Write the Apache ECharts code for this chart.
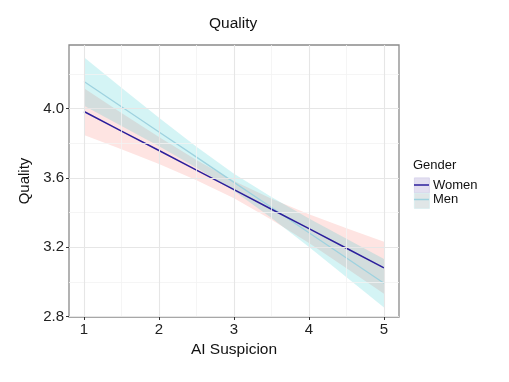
<!DOCTYPE html>
<html><head><meta charset="utf-8">
<script src="https://cdn.jsdelivr.net/npm/echarts@6/dist/echarts.min.js"></script>
<style>html,body{margin:0;padding:0;background:#fff}#c{width:509px;height:382px}</style>
</head><body><div id="c"></div>
<script>
const xTicks = [1, 2, 3, 4, 5];
const xMinor = [1.5, 2.5, 3.5, 4.5];
const yTicks = [2.8, 3.2, 3.6, 4.0];
const yMinor = [3.0, 3.4, 3.8, 4.2];
const xs = [1, 1.5, 2, 2.5, 3, 3.5, 4, 4.5, 5];
const womenFit   = [3.983, 3.870, 3.758, 3.645, 3.532, 3.419, 3.307, 3.194, 3.081];
const womenLower = [3.848, 3.765, 3.680, 3.587, 3.482, 3.359, 3.224, 3.079, 2.931];
const womenUpper = [4.118, 3.975, 3.836, 3.703, 3.582, 3.479, 3.390, 3.309, 3.231];
const menFit     = [4.156, 4.011, 3.865, 3.720, 3.574, 3.429, 3.283, 3.138, 2.992];
const menLower   = [4.016, 3.900, 3.783, 3.659, 3.524, 3.368, 3.201, 3.027, 2.852];
const menUpper   = [4.296, 4.120, 3.947, 3.780, 3.624, 3.489, 3.365, 3.248, 3.132];

const FONT = 'Liberation Sans, Arial, sans-serif';
const pts = (a) => xs.map((x, i) => [x, a[i]]);

function bandSeries(name, lower, upper, color, opacity, z) {
  return {
    type: 'custom', name: name, silent: true, z: z, clip: true,
    data: [[xs[0], lower[0]]],
    renderItem: function (params, api) {
      const poly = [];
      for (let i = 0; i < xs.length; i++) poly.push(api.coord([xs[i], upper[i]]));
      for (let i = xs.length - 1; i >= 0; i--) poly.push(api.coord([xs[i], lower[i]]));
      return {type: 'polygon', shape: {points: poly}, style: {fill: color, opacity: opacity}};
    }
  };
}

const gridLines = [].concat(
  xMinor.map(v => ({xAxis: v, lineStyle: {color: '#f2f2f2', width: 0.8, type: 'solid'}})),
  yMinor.map(v => ({yAxis: v, lineStyle: {color: '#f2f2f2', width: 0.8, type: 'solid'}})),
  xTicks.map(v => ({xAxis: v, lineStyle: {color: '#e6e6e6', width: 1.1, type: 'solid'}})),
  yTicks.map(v => ({yAxis: v, lineStyle: {color: '#e6e6e6', width: 1.1, type: 'solid'}}))
);

const keyLine = 'path://M0,0h20v2h-20z';

const chart = echarts.init(document.getElementById('c'), null, {renderer: 'canvas'});
chart.setOption({
  animation: false,
  backgroundColor: '#fff',
  textStyle: {fontFamily: FONT},
  title: {
    text: 'Quality', left: 209, top: 16, padding: 0,
    textStyle: {fontSize: 15.5, fontWeight: 'normal', color: '#111', fontFamily: FONT}
  },
  grid: {left: 69, right: 110, top: 45, bottom: 65, show: true,
         borderColor: '#8a8a8a', borderWidth: 1.3, backgroundColor: '#fff'},
  xAxis: {
    type: 'value', min: 0.8, max: 5.2,
    name: 'AI Suspicion', nameLocation: 'middle', nameGap: 25,
    nameTextStyle: {fontSize: 15.5, color: '#111', fontFamily: FONT},
    axisLine: {show: false},
    axisTick: {show: true, customValues: xTicks, length: 3, lineStyle: {color: '#333', width: 1}},
    axisLabel: {customValues: xTicks, fontSize: 15, color: '#222', margin: 5, fontFamily: FONT},
    splitLine: {show: false}
  },
  yAxis: {
    type: 'value', min: 2.797, max: 4.367,
    name: 'Quality', nameLocation: 'middle', nameGap: 30, nameRotate: 90,
    nameTextStyle: {fontSize: 15, color: '#111', fontFamily: FONT},
    axisLine: {show: false},
    axisTick: {show: true, customValues: yTicks, length: 3, lineStyle: {color: '#333', width: 1}},
    axisLabel: {customValues: yTicks, fontSize: 15, color: '#222', margin: 5, fontFamily: FONT,
                formatter: v => v.toFixed(1)},
    splitLine: {show: false}
  },
  legend: {
    data: [{name: 'Women', icon: keyLine}, {name: 'Men', icon: keyLine}],
    orient: 'vertical', left: 414, top: 178.5, padding: 0,
    itemWidth: 15, itemHeight: 14, itemGap: 1.5, symbolKeepAspect: true,
    textStyle: {fontSize: 13, color: '#111', fontFamily: FONT, padding: [0, 0, 0, -1]},
    selectedMode: false
  },
  graphic: [
    {type: 'rect', left: 414, top: 177.5, z: 0, shape: {width: 15, height: 15},
     style: {fill: '#e3dff0', stroke: '#d4d0ea', lineWidth: 0.8}},
    {type: 'rect', left: 414, top: 193, z: 0, shape: {width: 15, height: 15},
     style: {fill: '#e0e6e7', stroke: '#d6ecee', lineWidth: 0.8}},
    {type: 'text', left: 413, top: 159, style: {text: 'Gender', fontSize: 13, fill: '#111', fontFamily: FONT}}
  ],
  series: [
    {type: 'line', name: 'grid', data: [[1, 3.983]], symbol: 'none', lineStyle: {width: 0, opacity: 0},
     silent: true, z: 0,
     markLine: {silent: true, symbol: ['none', 'none'], label: {show: false}, animation: false, data: gridLines}},
    bandSeries('womenBand', womenLower, womenUpper, '#F8766D', 0.2, 1),
    bandSeries('menBand', menLower, menUpper, '#00BFC4', 0.17, 2),
    {type: 'line', name: 'Men', data: pts(menFit), symbol: 'none', itemStyle: {color: '#9ed2df'},
     lineStyle: {color: '#9ed2df', width: 1.3}, z: 3},
    {type: 'line', name: 'Women', data: pts(womenFit), symbol: 'none', itemStyle: {color: '#2c1f9c'},
     lineStyle: {color: '#2c1f9c', width: 1.5}, z: 4}
  ]
});
</script></body></html>
